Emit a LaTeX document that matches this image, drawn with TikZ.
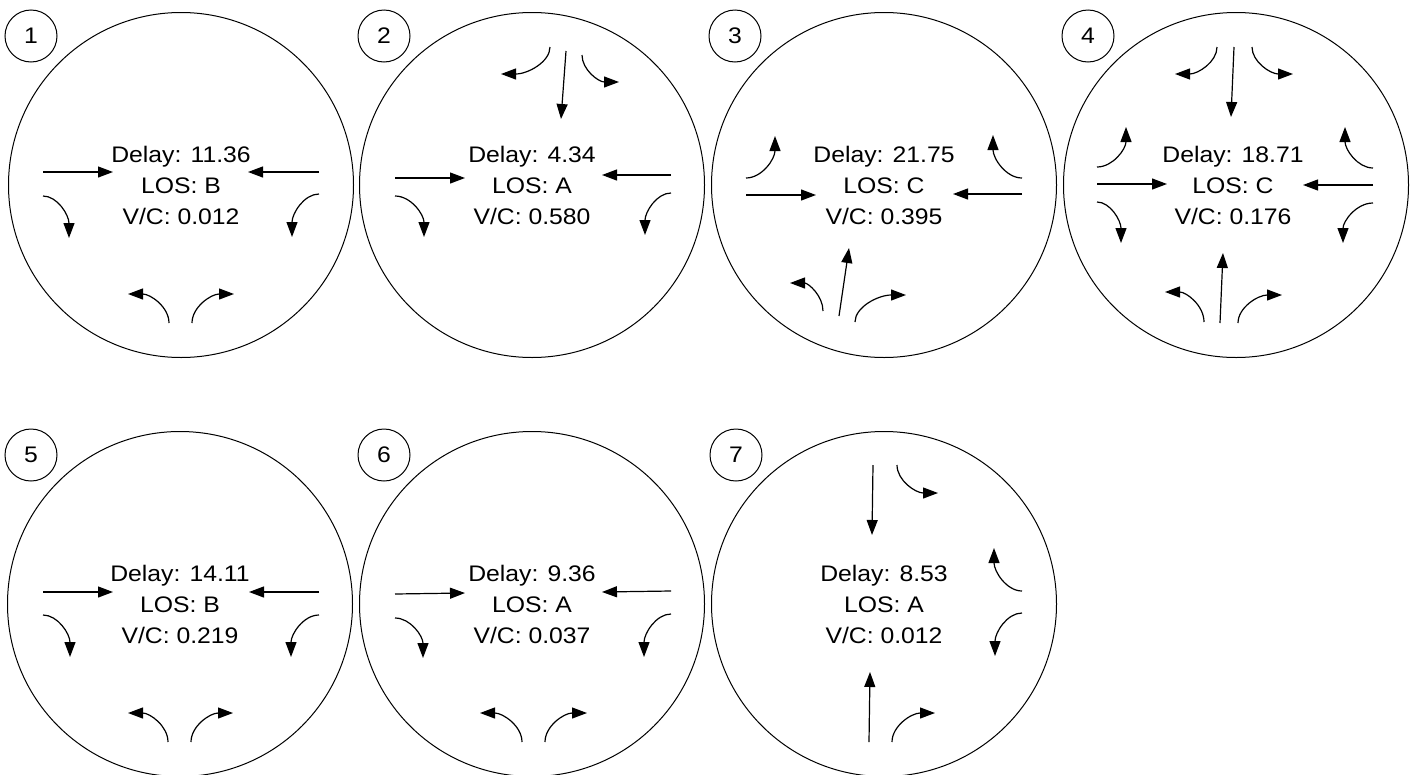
\documentclass[tikz,border=0pt]{standalone}
\usepackage{fontspec}
\setmainfont{Liberation Sans}[FakeStretch=1.1]
\usetikzlibrary{arrows.meta,calc}
\tikzset{
  ring/.style={circle,draw,line width=1pt,minimum size=345pt,inner sep=0pt},
  tag/.style={circle,draw,line width=1pt,minimum size=52pt,inner sep=0pt,font=\fontsize{22.5}{27}\selectfont},
  info/.style={anchor=base,inner sep=0pt,font=\fontsize{22.5}{27}\selectfont},
  mv/.style={line width=1.2pt,-{Triangle[length=15pt,width=11pt]}},
}
\newcommand\turnarrow[3]{\draw[mv] (#1) .. controls ($(#1)!0.55!(#2)$) and ($(#3)!0.55!(#2)$) .. (#3);}
\newcommand\straightarrow[2]{\draw[mv] (#1) -- (#2);}
\newcommand\readout[5]{%
  \node[info] (#1d) at (#5,-22.5) {Delay: #2};
  \node[info] (#1l) at (#5,8.5) {LOS: #3};
  \node[info] (#1v) at (#5,39.5) {V/C: #4};}
\begin{document}
\begin{tikzpicture}[x=1pt,y=-1pt]
\useasboundingbox (0,0) rectangle (1419,774);
\fill[white] (0,0) rectangle (1419,774);
% rings
\node[ring] (c1) at (181,185) {};
\node[ring] (c2) at (532,185) {};
\node[ring] (c3) at (884,185) {};
\node[ring] (c4) at (1236,185) {};
\node[ring] (c5) at (180,604) {};
\node[ring] (c6) at (532,604) {};
\node[ring] (c7) at (884,604) {};
% tags
\node[tag] (n1) at (31,36) {1};
\node[tag] (n2) at (384,36) {2};
\node[tag] (n3) at (735,36) {3};
\node[tag] (n4) at (1088,36) {4};
\node[tag] (n5) at (31,455) {5};
\node[tag] (n6) at (384,455) {6};
\node[tag] (n7) at (736,455) {7};
% 1
\begin{scope}[shift={(181,185)}]
 \readout{c1}{11.36}{B}{0.012}{0}
 \straightarrow{-138,-13}{-68,-13}
 \straightarrow{138,-13}{67,-13}
 \turnarrow{-138,11}{-112,11}{-112,53}
 \turnarrow{138,9}{111,9}{111,52}
 \turnarrow{-12,138}{-12,109}{-53,109}
 \turnarrow{11,138}{11,109}{53,109}
\end{scope}
% 2
\begin{scope}[shift={(532,185)}]
 \readout{c2}{4.34}{A}{0.580}{0}
 \turnarrow{18,-138}{18,-111}{-31,-111}
 \straightarrow{34,-134}{29,-66}
 \turnarrow{50,-130}{50,-103}{87,-103}
 \straightarrow{-137,-7}{-67,-7}
 \straightarrow{139,-10}{70,-10}
 \turnarrow{-137,11}{-108,11}{-108,52}
 \turnarrow{139,8}{113,8}{113,50}
\end{scope}
% 3
\begin{scope}[shift={(884,185)}]
 \readout{c3}{21.75}{C}{0.395}{0}
 \turnarrow{-138,-7}{-109,-7}{-109,-49}
 \straightarrow{-138,10}{-68,10}
 \turnarrow{138,-7}{109,-7}{109,-50}
 \straightarrow{138,9}{69,9}
 \turnarrow{-61,126}{-61,98}{-94,98}
 \straightarrow{-45,131}{-35,63}
 \turnarrow{-29,137}{-29,110}{22,110}
\end{scope}
% 4
\begin{scope}[shift={(1236,185)}]
 \readout{c4}{18.71}{C}{0.176}{-3}
 \turnarrow{-19,-138}{-19,-111}{-61,-111}
 \straightarrow{-2,-138}{-5,-68}
 \turnarrow{16,-138}{16,-111}{57,-111}
 \turnarrow{-139,-18}{-110,-18}{-110,-58}
 \straightarrow{-139,-1}{-69,-1}
 \turnarrow{-139,17}{-115,17}{-115,58}
 \turnarrow{137,-17}{109,-17}{109,-58}
 \straightarrow{137,0}{67,0}
 \turnarrow{137,18}{107,18}{107,58}
 \turnarrow{-32,137}{-32,107}{-71,107}
 \straightarrow{-16,138}{-13,68}
 \turnarrow{2,138}{2,110}{46,110}
\end{scope}
% 5
\begin{scope}[shift={(180,604)}]
 \readout{c5}{14.11}{B}{0.219}{0}
 \straightarrow{-137,-12}{-67,-12}
 \straightarrow{139,-12}{69,-12}
 \turnarrow{-137,11}{-110,11}{-110,53}
 \turnarrow{139,11}{111,11}{111,53}
 \turnarrow{-12,138}{-12,109}{-52,109}
 \turnarrow{11,138}{11,109}{53,109}
\end{scope}
% 6
\begin{scope}[shift={(532,604)}]
 \readout{c6}{9.36}{A}{0.037}{0}
 \straightarrow{-137,-10}{-67,-11}
 \straightarrow{139,-13}{70,-12}
 \turnarrow{-137,14}{-109,14}{-109,54}
 \turnarrow{139,10}{112,10}{112,53}
 \turnarrow{-10,138}{-10,109}{-52,109}
 \turnarrow{13,138}{13,109}{55,109}
\end{scope}
% 7
\begin{scope}[shift={(884,604)}]
 \readout{c7}{8.53}{A}{0.012}{0}
 \straightarrow{-11,-139}{-12,-69}
 \turnarrow{13,-139}{13,-111}{54,-111}
 \turnarrow{138,-13}{110,-13}{110,-56}
 \turnarrow{138,9}{111,9}{111,52}
 \straightarrow{-15,138}{-14,68}
 \turnarrow{8,138}{8,109}{51,109}
\end{scope}
\end{tikzpicture}
\end{document}
